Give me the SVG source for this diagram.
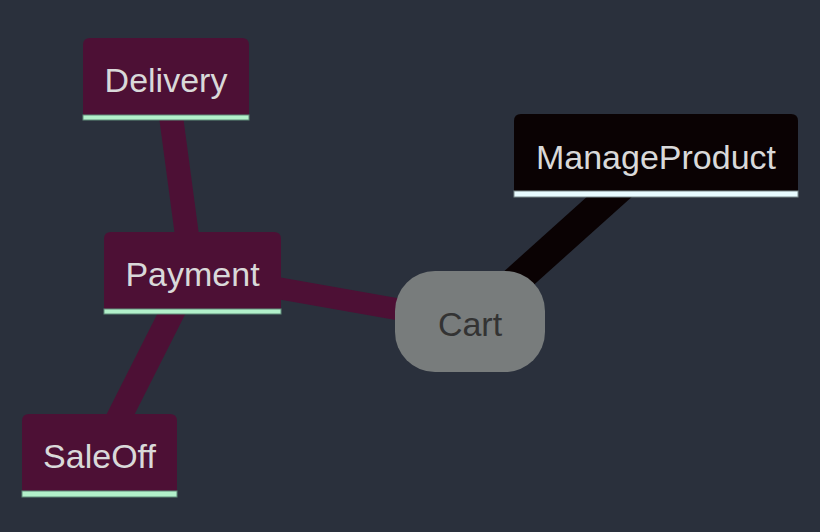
<svg xmlns="http://www.w3.org/2000/svg" width="820" height="532" viewBox="0 0 820 532">
<style>
.bg{fill:#2a303c}
.edge{fill:none;stroke-linecap:butt}
.pur{stroke:#4d1035}
.blk{stroke:#0a0203}
.body{fill:#4d1035}
.bodyblk{fill:#0a0203}
.bar{fill:#b2f0ca;stroke:#5f8a78;stroke-width:1}
.barw{fill:#e8fbff;stroke:#7a8a8c;stroke-width:1}
.lbl{font-family:"Liberation Sans",Arial,sans-serif;font-size:34px;fill:#d9d9d9;text-anchor:middle}
.dark{fill:#333333}
</style>
<rect class="bg" x="0" y="0" width="820" height="532"/>
<g id="connectors">
<line class="edge pur" x1="166" y1="79" x2="192" y2="273" stroke-width="24"/>
<line class="edge pur" x1="192" y1="273" x2="470" y2="322" stroke-width="22"/>
<line class="edge pur" x1="192" y1="273" x2="100" y2="455" stroke-width="25"/>
<line class="edge blk" x1="470" y1="322" x2="656" y2="155" stroke-width="30"/>
</g>
<g id="Delivery">
<path class="body" d="M83,115 V45 Q83,38 90,38 H242 Q249,38 249,45 V115 Z"/>
<rect class="bar" x="83" y="115" width="166" height="5"/>
<text class="lbl" x="166" y="92">Delivery</text>
</g>
<g id="Payment">
<path class="body" d="M104,309 V239 Q104,232 111,232 H274 Q281,232 281,239 V309 Z"/>
<rect class="bar" x="104" y="309" width="177" height="5"/>
<text class="lbl" x="192.5" y="286">Payment</text>
</g>
<g id="SaleOff">
<path class="body" d="M22,491 V421 Q22,414 29,414 H170 Q177,414 177,421 V491 Z"/>
<rect class="bar" x="22" y="491" width="155" height="6"/>
<text class="lbl" x="99.5" y="468">SaleOff</text>
</g>
<g id="ManageProduct">
<path class="bodyblk" d="M514,191 V121 Q514,114 521,114 H791 Q798,114 798,121 V191 Z"/>
<rect class="barw" x="514" y="191" width="284" height="6"/>
<text class="lbl" x="656" y="169">ManageProduct</text>
</g>
<g id="Cart">
<rect x="395" y="271" width="150" height="101" rx="40" ry="40" fill="#787c7c"/>
<text class="lbl dark" x="470" y="336">Cart</text>
</g>
</svg>
